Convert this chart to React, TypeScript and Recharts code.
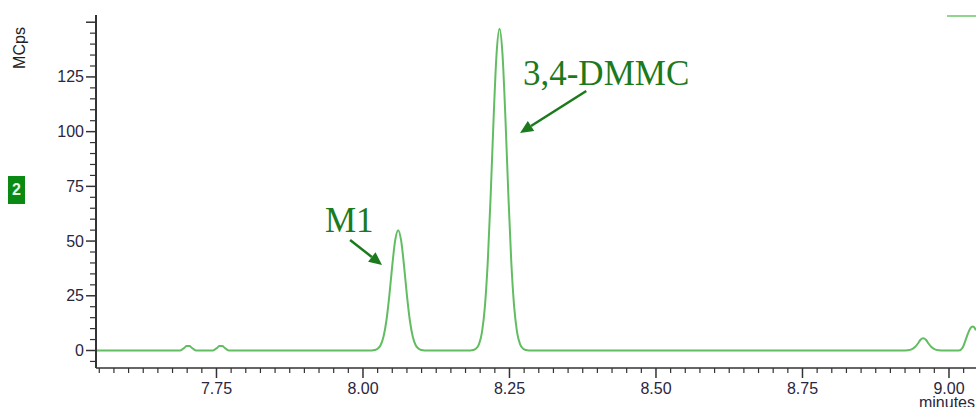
import React from 'react';
import { LineChart, Line, XAxis, YAxis, ReferenceLine, ReferenceDot } from 'recharts';

// retention time (minutes)
const times = [
  7.544, 7.688, 7.695, 7.699, 7.704, 7.708, 7.715,
  7.744, 7.751, 7.755, 7.76, 7.764, 7.771,
  8.015, 8.02, 8.025, 8.03, 8.035, 8.04, 8.045, 8.05, 8.055, 8.06,
  8.065, 8.07, 8.075, 8.08, 8.085, 8.09, 8.095, 8.1, 8.105,
  8.183, 8.188, 8.193, 8.198, 8.203, 8.208, 8.213, 8.218, 8.223, 8.228, 8.233,
  8.238, 8.243, 8.248, 8.253, 8.258, 8.263, 8.268, 8.273, 8.278, 8.283,
  8.925, 8.935, 8.942, 8.947, 8.951, 8.956, 8.961, 8.965, 8.97, 8.977, 8.987,
  9.017, 9.023, 9.028, 9.033, 9.037, 9.04, 9.043, 9.046,
];
// intensity (MCps)
const intensity = [
  0, 0, 1.2, 2, 2, 1.2, 0,
  0, 1.2, 2, 2, 1.2, 0,
  0, 0.2, 0.8, 2.4, 6.3, 13.7, 25.2, 38.9, 50.4, 55,
  50.4, 38.9, 25.2, 13.7, 6.3, 2.4, 0.8, 0.2, 0,
  0, 0.2, 0.9, 2.9, 8.3, 19.9, 40.9, 71.6, 106.7, 135.7, 147,
  135.7, 106.7, 71.6, 40.9, 19.9, 8.3, 2.9, 0.9, 0.2, 0,
  0, 0.4, 1.6, 3.2, 4.8, 5.6, 4.8, 3.2, 1.6, 0.4, 0,
  0, 1.2, 4.5, 8.2, 10.3, 11, 10.6, 9.2,
];

const xMajorLabels = [7.75, 8.0, 8.25, 8.5, 8.75, 9.0];
const yMajorLabels = [0, 25, 50, 75, 100, 125];

// annotations (data coordinates)
const annotationLabels = ['M1', '3,4-DMMC'];
const labelPos = [
  { x: 7.935, y: 54.2 },
  { x: 8.273, y: 121.3 },
];
const arrowFrom = [
  { x: 7.978, y: 50.5 },
  { x: 8.381, y: 118.6 },
];
const arrowTo = [
  { x: 8.0325, y: 39.1 },
  { x: 8.268, y: 99.4 },
];

const X_DOMAIN: [number, number] = [7.5444, 9.0461];
const Y_DOMAIN: [number, number] = [-8, 153.3];

const data = times.map((t, i) => ({ t, v: intensity[i] }));

const xTicks: number[] = [];
for (let i = 0; i <= 59; i++) xTicks.push(Math.round((7.55 + i * 0.025) * 1000) / 1000);
const yTicks: number[] = [];
for (let v = -5; v <= 150; v += 5) yTicks.push(v);

const TEXT_COLOR = '#2b2640';
const AXIS_COLOR = '#333';
const LINE_COLOR = '#62bd62';
const ANNOT_COLOR = '#1b7a1b';

const isMajorX = (v: number) => Math.abs(v * 4 - Math.round(v * 4)) < 1e-6;

const XTick = (props: any) => {
  const { x, y, payload } = props;
  const v = payload.value as number;
  const major = isMajorX(v);
  const showLabel = xMajorLabels.some((m) => Math.abs(m - v) < 1e-6);
  return (
    <g>
      <line x1={x} x2={x} y1={y} y2={y + (major ? 10 : 5)} stroke={AXIS_COLOR} strokeWidth={major ? 1.5 : 1.2} />
      {showLabel && (
        <text x={x} y={y + 26} textAnchor="middle" fontFamily="'Liberation Sans', Arial, sans-serif" fontSize={16} fill={TEXT_COLOR}>
          {v.toFixed(2)}
        </text>
      )}
    </g>
  );
};

const YTick = (props: any) => {
  const { x, y, payload } = props;
  const v = payload.value as number;
  const major = v % 25 === 0;
  const showLabel = yMajorLabels.includes(v);
  return (
    <g>
      <line x1={x - (major ? 10 : 6)} x2={x} y1={y} y2={y} stroke={AXIS_COLOR} strokeWidth={major ? 1.5 : 1.2} />
      {showLabel && (
        <text x={x - 12} y={y} textAnchor="end" dominantBaseline="central" fontFamily="'Liberation Sans', Arial, sans-serif" fontSize={16} fill={TEXT_COLOR}>
          {v}
        </text>
      )}
    </g>
  );
};

const RightTick = (props: any) => {
  const { x, y, payload } = props;
  const v = payload.value as number;
  if (v < 0) return <g />;
  const major = v % 25 === 0;
  return <line x1={x - (major ? 6 : 2)} x2={x} y1={y} y2={y} stroke="#444" strokeWidth={major ? 1.5 : 1} />;
};

const Arrow = (props: any) => {
  const { x1, y1, x2, y2 } = props;
  const ang = Math.atan2(y2 - y1, x2 - x1);
  const len = 13;
  const half = 6;
  const bx = x2 - len * Math.cos(ang);
  const by = y2 - len * Math.sin(ang);
  const px = -Math.sin(ang) * half;
  const py = Math.cos(ang) * half;
  return (
    <g>
      <line x1={x1} y1={y1} x2={bx} y2={by} stroke={ANNOT_COLOR} strokeWidth={2.5} />
      <polygon points={`${x2},${y2} ${bx + px},${by + py} ${bx - px},${by - py}`} fill={ANNOT_COLOR} />
    </g>
  );
};

const makeLabel = (text: string) => (props: any) => (
  <text x={props.cx} y={props.cy} fontFamily="'Liberation Serif', 'Times New Roman', serif" fontSize={35} fill={ANNOT_COLOR}>
    {text}
  </text>
);

export default function App() {
  return (
    <div style={{ position: 'absolute', left: 0, top: 0, width: 976, height: 407, background: '#fff', overflow: 'hidden' }}>
      <LineChart width={976} height={407} data={data} margin={{ top: 15, right: 0, bottom: 0, left: 0 }}>
        <XAxis
          dataKey="t"
          type="number"
          domain={X_DOMAIN}
          allowDataOverflow
          ticks={xTicks}
          interval={0}
          tickSize={0}
          tickMargin={0}
          tickLine={false}
          tick={<XTick />}
          height={39}
          axisLine={{ stroke: AXIS_COLOR, strokeWidth: 1.5 }}
        />
        <YAxis
          yAxisId="left"
          type="number"
          domain={Y_DOMAIN}
          allowDataOverflow
          ticks={yTicks}
          interval={0}
          tickSize={0}
          tickMargin={0}
          tickLine={false}
          tick={<YTick />}
          width={96}
          axisLine={{ stroke: AXIS_COLOR, strokeWidth: 2 }}
        />
        <YAxis
          yAxisId="right"
          orientation="right"
          type="number"
          domain={Y_DOMAIN}
          allowDataOverflow
          ticks={yTicks}
          interval={0}
          tickSize={0}
          tickMargin={0}
          tickLine={false}
          tick={<RightTick />}
          width={0}
          axisLine={false}
        />
        <Line
          yAxisId="left"
          dataKey="v"
          type="monotone"
          stroke={LINE_COLOR}
          strokeWidth={2}
          dot={false}
          isAnimationActive={false}
        />
        {annotationLabels.map((lab, i) => (
          <ReferenceLine
            key={`a${i}`}
            yAxisId="left"
            segment={[arrowFrom[i], arrowTo[i]]}
            shape={Arrow}
            ifOverflow="visible"
          />
        ))}
        {annotationLabels.map((lab, i) => (
          <ReferenceDot
            key={`l${i}`}
            yAxisId="left"
            x={labelPos[i].x}
            y={labelPos[i].y}
            shape={makeLabel(lab)}
            ifOverflow="visible"
          />
        ))}
      </LineChart>
      <div style={{ position: 'absolute', left: 20, top: 48, transform: 'translate(-50%, -50%) rotate(-90deg)', fontFamily: "'Liberation Sans', Arial, sans-serif", fontSize: 16, color: '#222', whiteSpace: 'nowrap' }}>
        MCps
      </div>
      <div style={{ position: 'absolute', left: 8, top: 176, width: 17, height: 28, background: '#0a8a12', color: '#e8f8e0', fontFamily: "'Liberation Sans', Arial, sans-serif", fontSize: 16, fontWeight: 'bold', display: 'flex', alignItems: 'center', justifyContent: 'center' }}>
        2
      </div>
      <div style={{ position: 'absolute', left: 947, top: 15, width: 29, height: 2, background: '#8fd48f' }} />
      <div style={{ position: 'absolute', right: 1, top: 395, fontFamily: "'Liberation Sans', Arial, sans-serif", fontSize: 16, color: TEXT_COLOR, lineHeight: '16px' }}>
        minutes
      </div>
    </div>
  );
}
